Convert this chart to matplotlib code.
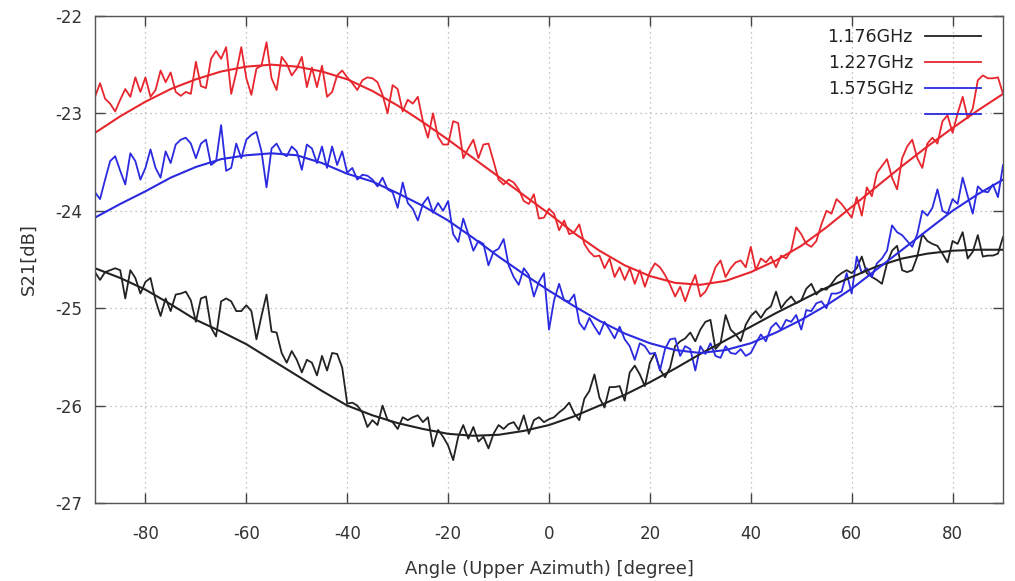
import numpy as np
import matplotlib
matplotlib.use("Agg")
import matplotlib.pyplot as plt
from matplotlib.lines import Line2D

plt.rcParams['axes.unicode_minus'] = False

# measured S21 (1 degree steps, -90..90)
angle = np.arange(-90, 91)

s21_1176 = [
    -24.63, -24.71, -24.63, -24.61, -24.59, -24.61, -24.90, -24.61, -24.69, -24.85,
    -24.73, -24.69, -24.92, -25.08, -24.90, -25.03, -24.86, -24.85, -24.83, -24.92,
    -25.14, -24.90, -24.88, -25.20, -25.29, -24.93, -24.90, -24.93, -25.03, -25.03,
    -24.97, -25.03, -25.32, -25.08, -24.86, -25.24, -25.25, -25.46, -25.56, -25.44,
    -25.53, -25.66, -25.53, -25.56, -25.69, -25.49, -25.64, -25.46, -25.47, -25.61,
    -25.98, -25.97, -26.00, -26.07, -26.22, -26.15, -26.20, -26.00, -26.15, -26.17,
    -26.24, -26.12, -26.15, -26.12, -26.10, -26.17, -26.12, -26.42, -26.25, -26.32,
    -26.41, -26.56, -26.32, -26.20, -26.34, -26.22, -26.37, -26.32, -26.44, -26.29,
    -26.20, -26.24, -26.19, -26.17, -26.25, -26.10, -26.29, -26.15, -26.12, -26.17,
    -26.14, -26.12, -26.07, -26.03, -25.97, -26.08, -26.15, -25.93, -25.85, -25.68,
    -25.92, -26.02, -25.81, -25.81, -25.80, -25.95, -25.66, -25.59, -25.68, -25.80,
    -25.56, -25.46, -25.63, -25.71, -25.61, -25.39, -25.34, -25.31, -25.25, -25.34,
    -25.22, -25.14, -25.12, -25.42, -25.36, -25.07, -25.22, -25.27, -25.34, -25.17,
    -25.08, -25.03, -25.10, -25.02, -24.98, -24.83, -25.00, -24.93, -24.88, -24.95,
    -24.92, -24.80, -24.75, -24.86, -24.80, -24.81, -24.75, -24.68, -24.64, -24.61,
    -24.64, -24.59, -24.47, -24.64, -24.68, -24.71, -24.75, -24.54, -24.41, -24.36,
    -24.61, -24.63, -24.61, -24.47, -24.24, -24.31, -24.34, -24.36, -24.44, -24.53,
    -24.31, -24.34, -24.22, -24.49, -24.42, -24.25, -24.47, -24.46, -24.46, -24.44, -24.27,
]

s21_1227 = [
    -22.83, -22.69, -22.85, -22.90, -22.98, -22.86, -22.75, -22.83, -22.63, -22.78,
    -22.63, -22.83, -22.76, -22.56, -22.68, -22.58, -22.78, -22.82, -22.78, -22.80,
    -22.47, -22.72, -22.74, -22.44, -22.36, -22.44, -22.32, -22.80, -22.58, -22.32,
    -22.64, -22.81, -22.54, -22.51, -22.27, -22.64, -22.76, -22.42, -22.49, -22.61,
    -22.54, -22.42, -22.73, -22.53, -22.73, -22.51, -22.83, -22.78, -22.61, -22.56,
    -22.63, -22.69, -22.76, -22.66, -22.63, -22.64, -22.68, -22.81, -23.00, -22.71,
    -22.75, -22.98, -22.86, -22.90, -22.83, -23.08, -23.25, -23.00, -23.24, -23.32,
    -23.32, -23.08, -23.10, -23.46, -23.36, -23.27, -23.46, -23.32, -23.31, -23.49,
    -23.68, -23.73, -23.68, -23.71, -23.78, -23.90, -23.93, -23.83, -24.08, -24.07,
    -23.98, -24.03, -24.20, -24.10, -24.24, -24.22, -24.14, -24.34, -24.42, -24.47,
    -24.46, -24.59, -24.49, -24.68, -24.58, -24.71, -24.59, -24.75, -24.61, -24.78,
    -24.63, -24.54, -24.58, -24.66, -24.76, -24.88, -24.78, -24.93, -24.78, -24.66,
    -24.88, -24.83, -24.73, -24.58, -24.51, -24.68, -24.59, -24.53, -24.51, -24.58,
    -24.37, -24.61, -24.49, -24.53, -24.47, -24.58, -24.46, -24.49, -24.41, -24.17,
    -24.24, -24.34, -24.37, -24.31, -24.14, -24.00, -24.03, -23.88, -23.93, -24.00,
    -24.07, -23.86, -24.05, -23.76, -23.85, -23.61, -23.54, -23.47, -23.66, -23.78,
    -23.46, -23.34, -23.27, -23.46, -23.56, -23.31, -23.25, -23.31, -23.08, -23.02,
    -23.20, -23.00, -22.83, -23.05, -22.95, -22.66, -22.61, -22.64, -22.64, -22.63, -22.80,
]

s21_1575 = [
    -23.81, -23.88, -23.68, -23.49, -23.44, -23.59, -23.73, -23.41, -23.49, -23.68,
    -23.56, -23.37, -23.56, -23.66, -23.39, -23.51, -23.32, -23.27, -23.25, -23.31,
    -23.46, -23.31, -23.27, -23.53, -23.49, -23.12, -23.59, -23.56, -23.31, -23.46,
    -23.27, -23.22, -23.19, -23.39, -23.76, -23.36, -23.31, -23.41, -23.44, -23.34,
    -23.39, -23.58, -23.32, -23.36, -23.51, -23.34, -23.56, -23.34, -23.53, -23.39,
    -23.61, -23.56, -23.68, -23.63, -23.64, -23.68, -23.75, -23.66, -23.78, -23.81,
    -23.97, -23.71, -23.92, -23.98, -24.10, -23.93, -23.86, -24.02, -23.92, -24.00,
    -23.90, -24.24, -24.32, -24.08, -24.24, -24.41, -24.31, -24.34, -24.56, -24.42,
    -24.39, -24.29, -24.56, -24.68, -24.76, -24.59, -24.66, -24.88, -24.73, -24.64,
    -25.22, -24.92, -24.75, -24.92, -24.93, -24.86, -25.15, -25.22, -25.10, -25.19,
    -25.27, -25.14, -25.22, -25.31, -25.19, -25.32, -25.39, -25.53, -25.36, -25.39,
    -25.47, -25.46, -25.64, -25.42, -25.32, -25.31, -25.49, -25.39, -25.42, -25.64,
    -25.39, -25.47, -25.36, -25.49, -25.51, -25.39, -25.46, -25.47, -25.42, -25.49,
    -25.46, -25.36, -25.27, -25.34, -25.20, -25.15, -25.22, -25.12, -25.14, -25.07,
    -25.22, -25.02, -25.03, -24.95, -24.93, -25.00, -24.85, -24.85, -24.83, -24.64,
    -24.85, -24.47, -24.64, -24.59, -24.68, -24.54, -24.49, -24.41, -24.15, -24.22,
    -24.25, -24.31, -24.37, -24.24, -24.00, -24.05, -23.97, -23.78, -24.00, -24.03,
    -23.88, -23.93, -23.66, -23.85, -24.03, -23.75, -23.80, -23.81, -23.73, -23.86, -23.53,
]

# fitted curves (5 degree steps)
fit_angle = np.arange(-90, 91, 5)
fit_1176 = [-24.59, -24.69, -24.81, -24.96, -25.12, -25.24, -25.37, -25.53, -25.69, -25.85,
            -26.00, -26.10, -26.18, -26.24, -26.29, -26.31, -26.30, -26.26, -26.20, -26.11,
            -26.00, -25.89, -25.76, -25.62, -25.47, -25.33, -25.19, -25.05, -24.92, -24.79,
            -24.68, -24.57, -24.49, -24.44, -24.41, -24.40, -24.40]
fit_1227 = [-23.20, -23.03, -22.88, -22.75, -22.65, -22.57, -22.52, -22.50, -22.52, -22.57,
            -22.65, -22.77, -22.92, -23.09, -23.27, -23.46, -23.65, -23.84, -24.03, -24.23,
            -24.41, -24.56, -24.67, -24.74, -24.76, -24.72, -24.63, -24.51, -24.36, -24.17,
            -23.96, -23.75, -23.54, -23.34, -23.15, -22.97, -22.80]
fit_1575 = [-24.07, -23.93, -23.80, -23.66, -23.55, -23.47, -23.43, -23.41, -23.43, -23.51,
            -23.62, -23.70, -23.82, -23.95, -24.10, -24.28, -24.47, -24.65, -24.82, -24.98,
            -25.13, -25.26, -25.36, -25.43, -25.46, -25.43, -25.36, -25.25, -25.12, -24.97,
            -24.80, -24.60, -24.40, -24.20, -24.00, -23.83, -23.68]

labels = ['1.176GHz', '1.227GHz', '1.575GHz', '']
c_black = '#222222'
c_red = '#e8262e'
c_blue = '#2a2ae0'

fig = plt.figure(figsize=(10.15, 5.81), dpi=100)
ax = fig.add_axes([0.0936, 0.1343, 0.8946, 0.8382])

ax.plot(angle, s21_1176, color=c_black, lw=1.3)
ax.plot(angle, s21_1227, color=c_red, lw=1.3)
ax.plot(angle, s21_1575, color=c_blue, lw=1.3)
ax.plot(fit_angle, fit_1176, color=c_black, lw=1.5)
ax.plot(fit_angle, fit_1227, color=c_red, lw=1.5)
ax.plot(fit_angle, fit_1575, color=c_blue, lw=1.5)

ax.set_xlim(-90, 90)
ax.set_ylim(-27, -22)
ax.set_xticks(np.arange(-80, 81, 20))
ax.set_yticks(np.arange(-27, -21, 1))
ax.grid(True, color='#b0b0b0', lw=0.9, ls=(0, (1, 3)))
ax.tick_params(direction='in', length=7, width=1, color='#444444',
               top=True, right=True, labelsize=12, labelcolor='#333333')
ax.tick_params(axis='x', pad=16)
ax.tick_params(axis='y', pad=9)
for sp in ax.spines.values():
    sp.set_color('#555555')
    sp.set_linewidth(1.0)

ax.set_xlabel('Angle (Upper Azimuth) [degree]', fontsize=13, color='#333333', labelpad=12)
ax.set_ylabel('S21[dB]', fontsize=13, color='#333333', labelpad=13)

handles = [Line2D([], [], color=c_black, lw=1.3),
           Line2D([], [], color=c_red, lw=1.3),
           Line2D([], [], color=c_blue, lw=1.3),
           Line2D([], [], color=c_blue, lw=1.3)]
ax.legend(handles, labels, loc='upper right', bbox_to_anchor=(0.983, 0.989),
          frameon=False, markerfirst=False, borderaxespad=0,
          fontsize=12.5, handlelength=3.2, handletextpad=0.7, labelspacing=0.45,
          labelcolor='#222222')

fig.savefig('out.png', dpi=100)
